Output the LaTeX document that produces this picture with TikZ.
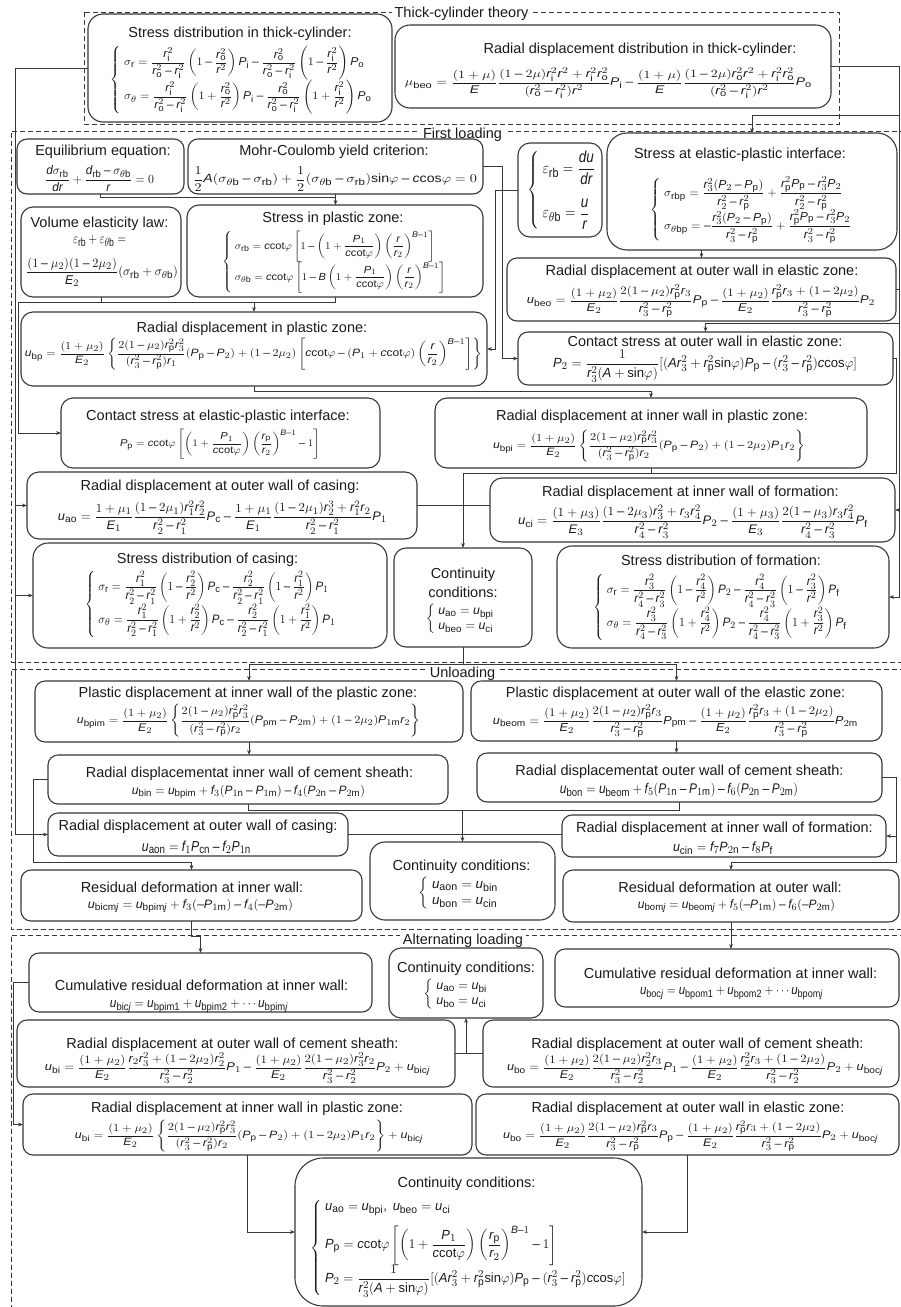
\documentclass[tikz,border=0pt]{standalone}
\usepackage{amsmath}
\usepackage{graphicx}
\usepackage{fontspec}
\setmainfont{Liberation Sans}
\usepackage[italic]{mathastext}
\usetikzlibrary{arrows.meta,calc}
\definecolor{lc}{HTML}{383838}
\definecolor{tc}{HTML}{1A1A1A}
\newcommand{\rI}{r_\mathrm{i}}
\newcommand{\rO}{r_\mathrm{o}}
\newcommand{\rP}{r_\mathrm{p}}
\newcommand{\Pp}{P_\mathrm{p}}
\newcommand{\ccot}{c\mathrm{cot}\varphi}
\newcommand{\sinp}{\mathrm{sin}\varphi}
\newcommand{\ccos}{c\mathrm{cos}\varphi}
\newcommand{\thb}{\theta\mathrm{b}}
\newcommand{\LB}{\left\{\;}
\tikzset{
  bx/.style={draw=lc, line width=1.1pt, inner sep=0pt, outer sep=0pt},
  ttl/.style={font=\fontsize{14.5}{17}\selectfont, inner sep=0pt, text=tc, anchor=base},
  eqn/.style={inner sep=0pt, text=tc},
  ln/.style={draw=lc, line width=1pt},
  arr/.style={ln, -{Stealth[length=5pt,width=3.8pt]}},
  frm/.style={draw=lc, line width=0.8pt, dash pattern=on 5pt off 3pt},
  flab/.style={ttl, fill=white, inner xsep=3pt, inner ysep=1.5pt},
}
\newcommand{\BX}[6][10pt]{\node[bx,rounded corners=#1,anchor=north west,minimum width={(#5-#3)*1pt},minimum height={(#6-#4)*1pt}] (#2) at (#3,#4) {};}
\newcommand{\TT}[4]{\node[ttl] (#1) at (#2,#3) {#4};}
\newcommand{\EQ}[6]{\node[eqn] (#1) at (#2,#3) {\resizebox*{#4pt}{#5pt}{$\displaystyle #6$}};}
\newcommand{\EQH}[5]{\node[eqn] (#1) at (#2,#3) {\resizebox*{!}{#4pt}{$\displaystyle #5$}};}
\begin{document}
\begin{tikzpicture}[x=1pt,y=-1pt]
\useasboundingbox (0,0) rectangle (901,1307);
% ---------- frames
\draw[frm] (84,12) rectangle (839,124);
\draw[frm] (905,131) -- (11,131) -- (11,662) -- (905,662);
\draw[frm] (905,669) -- (11,669) -- (11,929) -- (905,929);
\draw[frm] (905,935) -- (11,935) -- (11,1312);
\node[flab] (lTC) at (461.5,17) {Thick-cylinder theory};
\node[flab] (lFL) at (462.5,138) {First loading};
\node[flab] (lUL) at (462.5,677) {Unloading};
\node[flab] (lAL) at (463,944) {Alternating loading};
% ---------- thick-cylinder theory
\BX[15pt]{A}{88}{14}{392}{122}
\TT{At}{240}{37}{Stress distribution in thick-cylinder:}
\EQ{Ae}{241.5}{80}{263}{68}{\LB\begin{array}{@{}l@{}}
\sigma_\mathrm{r}=\dfrac{\rI^2}{\rO^2-\rI^2}\left(1-\dfrac{\rO^2}{r^2}\right)P_\mathrm{i}-\dfrac{\rO^2}{\rO^2-\rI^2}\left(1-\dfrac{\rI^2}{r^2}\right)P_\mathrm{o}\\[4pt]
\sigma_\theta=\dfrac{\rI^2}{\rO^2-\rI^2}\left(1+\dfrac{\rO^2}{r^2}\right)P_\mathrm{i}-\dfrac{\rO^2}{\rO^2-\rI^2}\left(1+\dfrac{\rI^2}{r^2}\right)P_\mathrm{o}
\end{array}\right.}
\BX[15pt]{B}{395}{25}{831}{108}
\TT{Bt}{640}{53}{Radial displacement distribution in thick-cylinder:}
\EQ{Be}{608.5}{83}{407}{31}{\mu_\mathrm{beo}=\dfrac{(1+\mu)}{E}\dfrac{(1-2\mu)\rI^2r^2+\rI^2\rO^2}{(\rO^2-\rI^2)r^2}P_\mathrm{i}-\dfrac{(1+\mu)}{E}\dfrac{(1-2\mu)\rO^2r^2+\rI^2\rO^2}{(\rO^2-\rI^2)r^2}P_\mathrm{o}}
% ---------- first loading
\BX{E1}{17}{139}{184}{194}
\TT{E1t}{103}{155}{Equilibrium equation:}
\EQ{E1e}{99.5}{179}{109}{26}{\dfrac{d\sigma_\mathrm{rb}}{dr}+\dfrac{d_\mathrm{rb}-\sigma_{\thb}}{r}=0}
\BX{MC}{188}{139}{483}{194}
\TT{MCt}{334}{155}{Mohr-Coulomb yield criterion:}
\EQ{MCe}{335}{179}{284}{24}{\dfrac{1}{2}A(\sigma_{\thb}-\sigma_\mathrm{rb})+\dfrac{1}{2}(\sigma_{\thb}-\sigma_\mathrm{rb})\sinp-\ccos=0}
\BX[12pt]{ST}{518}{143}{602}{237}
\EQ{STe}{562}{190}{70}{78}{\LB\begin{array}{@{}l@{}}\varepsilon_\mathrm{rb}=\dfrac{du}{dr}\\[12pt]\varepsilon_{\thb}=\dfrac{u}{r}\end{array}\right.}
\BX[20pt]{SI}{607}{133}{897}{250}
\TT{SIt}{740}{158}{Stress at elastic-plastic interface:}
\EQ{SIe}{751.5}{210}{203}{66}{\LB\begin{array}{@{}l@{}}
\sigma_\mathrm{rbp}=\dfrac{r_3^2(P_2-\Pp)}{r_2^2-\rP^2}+\dfrac{\rP^2\Pp-r_3^2P_2}{r_2^2-\rP^2}\\[6pt]
\sigma_{\theta\mathrm{bp}}=-\dfrac{r_3^2(P_2-\Pp)}{r_3^2-\rP^2}+\dfrac{\rP^2\Pp-r_3^2P_2}{r_3^2-\rP^2}
\end{array}\right.}
\BX[12pt]{VE}{21}{207}{181}{297}
\TT{VEt}{99.5}{227}{Volume elasticity law:}
\EQ{VEa}{99.5}{241}{53}{12}{\varepsilon_\mathrm{rb}+\varepsilon_{\thb}=}
\EQ{VEb}{102}{272}{152}{29}{\dfrac{(1-\mu_2)(1-2\mu_2)}{E_2}(\sigma_\mathrm{rb}+\sigma_{\thb})}
\BX[12pt]{SP}{187}{205}{483}{297}
\TT{SPt}{333}{222}{Stress in plastic zone:}
\EQ{SPe}{334.5}{262}{225}{62}{\LB\begin{array}{@{}l@{}}
\sigma_\mathrm{rb}=\ccot\left[1-\left(1+\dfrac{P_1}{\ccot}\right)\left(\dfrac{r}{r_2}\right)^{B-1}\right]\\[4pt]
\sigma_{\thb}=\ccot\left[1-B\left(1+\dfrac{P_1}{\ccot}\right)\left(\dfrac{r}{r_2}\right)^{B-1}\right]
\end{array}\right.}
\BX[12pt]{RDP}{21}{312}{487}{386}
\TT{RDPt}{252}{332}{Radial displacement in plastic zone:}
\EQ{RDPe}{253.5}{354}{457}{32}{u_\mathrm{bp}=\dfrac{(1+\mu_2)}{E_2}\left\{\dfrac{2(1-\mu_2)\rP^2r_3^2}{(r_3^2-\rP^2)r_1}(\Pp-P_2)+(1-2\mu_2)\left[\ccot-(P_1+\ccot)\left(\dfrac{r}{r_2}\right)^{B-1}\right]\right\}}
\BX{RDOE}{507}{258}{896}{321}
\TT{RDOEt}{702}{275}{Radial displacement at outer wall in elastic zone:}
\EQ{RDOEe}{701}{301}{348}{32}{u_\mathrm{beo}=\dfrac{(1+\mu_2)}{E_2}\dfrac{2(1-\mu_2)\rP^2r_3}{r_3^2-\rP^2}\Pp-\dfrac{(1+\mu_2)}{E_2}\dfrac{\rP^2r_3+(1-2\mu_2)}{r_3^2-\rP^2}P_2}
\BX{CSO}{518}{332}{893}{385}
\TT{CSOt}{705}{346}{Contact stress at outer wall in elastic zone:}
\EQ{CSOe}{705}{366}{304}{32}{P_2=\dfrac{1}{r_3^2(A+\sinp)}[(Ar_3^2+\rP^2\sinp)\Pp-(r_3^2-\rP^2)\ccos]}
\BX[12pt]{CSI}{61}{398}{380}{468}
\TT{CSIt}{218}{420}{Contact stress at elastic-plastic interface:}
\EQ{CSIe}{220}{444}{200}{30}{\Pp=\ccot\left[\left(1+\dfrac{P_1}{\ccot}\right)\left(\dfrac{\rP}{r_2}\right)^{B-1}-1\right]}
\BX[12pt]{RDIP}{435}{398}{867}{468}
\TT{RDIPt}{652}{420}{Radial displacement at inner wall in plastic zone:}
\EQ{RDIPe}{649}{446}{312}{32}{u_\mathrm{bpi}=\dfrac{(1+\mu_2)}{E_2}\left\{\dfrac{2(1-\mu_2)\rP^2r_3^2}{(r_3^2-\rP^2)r_2}(\Pp-P_2)+(1-2\mu_2)P_1r_2\right\}}
\BX[12pt]{RDOC}{27}{472}{417}{539}
\TT{RDOCt}{220}{490}{Radial displacement at outer wall of casing:}
\EQ{RDOCe}{222.5}{517.5}{329}{33}{u_\mathrm{ao}=\dfrac{1+\mu_1}{E_1}\dfrac{(1-2\mu_1)r_1^2r_2^2}{r_2^2-r_1^2}P_\mathrm{c}-\dfrac{1+\mu_1}{E_1}\dfrac{(1-2\mu_1)r_2^3+r_1^2r_2}{r_2^2-r_1^2}P_1}
\BX[12pt]{RDIF}{490}{478}{895}{542}
\TT{RDIFt}{690.5}{496}{Radial displacement at inner wall of formation:}
\EQ{RDIFe}{693}{521.5}{350}{33}{u_\mathrm{ci}=\dfrac{(1+\mu_3)}{E_3}\dfrac{(1-2\mu_3)r_3^2+r_3r_4^2}{r_4^2-r_3^2}P_2-\dfrac{(1+\mu_3)}{E_3}\dfrac{2(1-\mu_3)r_3r_4^2}{r_4^2-r_3^2}P_\mathrm{f}}
\BX[15pt]{SDC}{33}{543}{387}{648}
\TT{SDCt}{207.5}{563}{Stress distribution of casing:}
\EQ{SDCe}{211}{604}{252}{66}{\LB\begin{array}{@{}l@{}}
\sigma_\mathrm{r}=\dfrac{r_1^2}{r_2^2-r_1^2}\left(1-\dfrac{r_2^2}{r^2}\right)P_\mathrm{c}-\dfrac{r_2^2}{r_2^2-r_1^2}\left(1-\dfrac{r_1^2}{r^2}\right)P_1\\[4pt]
\sigma_\theta=\dfrac{r_1^2}{r_2^2-r_1^2}\left(1+\dfrac{r_2^2}{r^2}\right)P_\mathrm{c}-\dfrac{r_2^2}{r_2^2-r_1^2}\left(1+\dfrac{r_1^2}{r^2}\right)P_1
\end{array}\right.}
\BX[15pt]{SDF}{557}{546}{889}{648}
\TT{SDFt}{721}{565}{Stress distribution of formation:}
\EQ{SDFe}{720.5}{607}{255}{66}{\LB\begin{array}{@{}l@{}}
\sigma_\mathrm{r}=\dfrac{r_3^2}{r_4^2-r_3^2}\left(1-\dfrac{r_4^2}{r^2}\right)P_2-\dfrac{r_4^2}{r_4^2-r_3^2}\left(1-\dfrac{r_3^2}{r^2}\right)P_\mathrm{f}\\[4pt]
\sigma_\theta=\dfrac{r_3^2}{r_4^2-r_3^2}\left(1+\dfrac{r_4^2}{r^2}\right)P_2-\dfrac{r_4^2}{r_4^2-r_3^2}\left(1+\dfrac{r_3^2}{r^2}\right)P_\mathrm{f}
\end{array}\right.}
\BX[12pt]{CC1}{394}{548}{532}{647}
\TT{CC1a}{463}{578}{Continuity}
\TT{CC1b}{463}{597}{conditions:}
\EQH{CC1e}{460.5}{619}{30}{\LB\begin{array}{@{}l@{}}u_\mathrm{ao}=u_\mathrm{bpi}\\u_\mathrm{beo}=u_\mathrm{ci}\end{array}\right.}
% ---------- unloading
\BX{UL1}{35}{681}{463}{742}
\TT{UL1t}{248}{697}{Plastic displacement at inner wall of the plastic zone:}
\EQ{UL1e}{248.5}{721}{343}{33}{u_\mathrm{bpim}=\dfrac{(1+\mu_2)}{E_2}\left\{\dfrac{2(1-\mu_2)\rP^2r_3^2}{(r_3^2-\rP^2)r_2}(P_\mathrm{pm}-P_{2\mathrm{m}})+(1-2\mu_2)P_{1\mathrm{m}}r_2\right\}}
\BX{UR1}{471}{681}{882}{741}
\TT{UR1t}{675.5}{697}{Plastic displacement at outer wall of the elastic zone:}
\EQ{UR1e}{675.5}{721}{365}{33}{u_\mathrm{beom}=\dfrac{(1+\mu_2)}{E_2}\dfrac{2(1-\mu_2)\rP^2r_3}{r_3^2-\rP^2}P_\mathrm{pm}-\dfrac{(1+\mu_2)}{E_2}\dfrac{\rP^2r_3+(1-2\mu_2)}{r_3^2-\rP^2}P_{2\mathrm{m}}}
\BX{UL2}{48}{755}{448}{804}
\TT{UL2t}{249.5}{777}{Radial displacementat inner wall of cement sheath:}
\EQ{UL2e}{248.5}{792}{233}{14}{u_\mathrm{bin}=u_\mathrm{bpim}+f_3(P_{1\mathrm{n}}-P_{1\mathrm{m}})-f_4(P_{2\mathrm{n}}-P_{2\mathrm{m}})}
\BX{UR2}{477}{753}{882}{802}
\TT{UR2t}{679.5}{775}{Radial displacementat outer wall of cement sheath:}
\EQ{UR2e}{679}{790}{238}{14}{u_\mathrm{bon}=u_\mathrm{beom}+f_5(P_{1\mathrm{n}}-P_{1\mathrm{m}})-f_6(P_{2\mathrm{n}}-P_{2\mathrm{m}})}
\BX{UL3}{48}{813}{348}{856}
\TT{UL3t}{198}{830}{Radial displacement at outer wall of casing:}
\EQ{UL3e}{196.5}{847}{109}{13}{u_\mathrm{aon}=f_1P_\mathrm{cn}-f_2P_{1\mathrm{n}}}
\BX{UR3}{562}{815}{886}{857}
\TT{UR3t}{724.5}{832}{Radial displacement at inner wall of formation:}
\EQ{UR3e}{723}{848}{100}{13}{u_\mathrm{cin}=f_7P_{2\mathrm{n}}-f_8P_\mathrm{f}}
\BX[15pt]{UC}{370}{842}{555}{920}
\TT{UCt}{461.5}{870}{Continuity conditions:}
\EQH{UCe}{459}{893}{32}{\LB\begin{array}{@{}l@{}}u_\mathrm{aon}=u_\mathrm{bin}\\u_\mathrm{bon}=u_\mathrm{cin}\end{array}\right.}
\BX{UL4}{21}{870}{362}{921}
\TT{UL4t}{192}{892}{Residual deformation at inner wall:}
\EQ{UL4e}{190.5}{906}{205}{14}{u_{\mathrm{bicm}j}=u_{\mathrm{bpim}j}+f_3(-P_{1\mathrm{m}})-f_4(-P_{2\mathrm{m}})}
\BX{UR4}{563}{870}{899}{922}
\TT{UR4t}{730}{892}{Residual deformation at outer wall:}
\EQ{UR4e}{736.5}{906}{197}{14}{u_{\mathrm{bom}j}=u_{\mathrm{beom}j}+f_5(-P_{1\mathrm{m}})-f_6(-P_{2\mathrm{m}})}
% ---------- alternating loading
\BX{AL1}{29}{953}{372}{1012}
\TT{AL1t}{201.5}{990}{Cumulative residual deformation at inner wall:}
\EQ{AL1e}{199}{1006}{178}{13}{u_{\mathrm{bic}j}=u_\mathrm{bpim1}+u_\mathrm{bpim2}+\cdots u_{\mathrm{bpim}j}}
\BX[12pt]{ALC}{389}{948}{543}{1018}
\TT{ALCt}{466}{972}{Continuity conditions:}
\EQH{ALCe}{456}{994}{30}{\LB\begin{array}{@{}l@{}}u_\mathrm{ao}=u_\mathrm{bi}\\u_\mathrm{bo}=u_\mathrm{ci}\end{array}\right.}
\BX{AR1}{555}{949}{899}{1007}
\TT{AR1t}{730.5}{978}{Cumulative residual deformation at inner wall:}
\EQ{AR1e}{731.5}{993}{183}{13}{u_{\mathrm{boc}j}=u_\mathrm{bpom1}+u_\mathrm{bpom2}+\cdots u_{\mathrm{bpom}j}}
\BX{AL2}{17}{1020}{455}{1087}
\TT{AL2t}{232.5}{1048}{Radial displacement at outer wall of cement sheath:}
\EQ{AL2e}{237.5}{1068}{385}{30}{u_\mathrm{bi}=\dfrac{(1+\mu_2)}{E_2}\dfrac{r_2r_3^2+(1-2\mu_2)r_2^2}{r_3^2-r_2^2}P_1-\dfrac{(1+\mu_2)}{E_2}\dfrac{2(1-\mu_2)r_3^2r_2}{r_3^2-r_2^2}P_2+u_{\mathrm{bic}j}}
\BX{AR2}{483}{1020}{899}{1087}
\TT{AR2t}{697.5}{1048}{Radial displacement at outer wall of cement sheath:}
\EQ{AR2e}{695}{1068}{376}{30}{u_\mathrm{bo}=\dfrac{(1+\mu_2)}{E_2}\dfrac{2(1-\mu_2)r_2^2r_3}{r_3^2-r_2^2}P_1-\dfrac{(1+\mu_2)}{E_2}\dfrac{r_2^2r_3+(1-2\mu_2)}{r_3^2-r_2^2}P_2+u_{\mathrm{boc}j}}
\BX{AL3}{23}{1094}{472}{1155}
\TT{AL3t}{247}{1112}{Radial displacement at inner wall in plastic zone:}
\EQ{AL3e}{249}{1136}{348}{32}{u_\mathrm{bi}=\dfrac{(1+\mu_2)}{E_2}\left\{\dfrac{2(1-\mu_2)\rP^2r_3^2}{(r_3^2-\rP^2)r_2}(\Pp-P_2)+(1-2\mu_2)P_1r_2\right\}+u_{\mathrm{bic}j}}
\BX{AR3}{476}{1094}{899}{1155}
\TT{AR3t}{688}{1112}{Radial displacement at outer wall in elastic zone:}
\EQ{AR3e}{690.5}{1136}{375}{31}{u_\mathrm{bo}=\dfrac{(1+\mu_2)}{E_2}\dfrac{2(1-\mu_2)\rP^2r_3}{r_3^2-\rP^2}\Pp-\dfrac{(1+\mu_2)}{E_2}\dfrac{\rP^2r_3+(1-2\mu_2)}{r_3^2-\rP^2}P_2+u_{\mathrm{boc}j}}
\BX[28pt]{CC}{295}{1158}{642}{1306}
\TT{CCt}{466.5}{1187}{Continuity conditions:}
\EQ{CCe}{468.5}{1248}{317}{98}{\LB\begin{array}{@{}l@{}}
u_\mathrm{ao}=u_\mathrm{bpi},\ u_\mathrm{beo}=u_\mathrm{ci}\\[8pt]
\Pp=\ccot\left[\left(1+\dfrac{P_1}{\ccot}\right)\left(\dfrac{\rP}{r_2}\right)^{B-1}-1\right]\\[8pt]
P_2=\dfrac{1}{r_3^2(A+\sinp)}[(Ar_3^2+\rP^2\sinp)\Pp-(r_3^2-\rP^2)\ccos]
\end{array}\right.}
% ---------- connectors
\coordinate (tl) at (15,68);
\coordinate (tr) at (899.5,68);
\draw[arr] (A.west) -- (tl) |- (UL3.west);
\draw[arr] (tl |- RDOC.west) -- (RDOC.west);
\draw[arr] (tl |- SDC.west) -- (SDC.west);
\draw[ln] (B.east) -- (B.east -| tr) -- (tr |- SDF.east);
\draw[arr] (tr |- SDF.east) -- (SDF.east);
\draw[arr] (tr |- RDIF.east) -- (RDIF.east);
\coordinate (si) at (752,115);
\draw[arr] (tr |- si) -- (si) -- (SI.north);
\draw[ln] (RDOE.east) -- (RDOE.east -| tr);
\coordinate (cs) at (705.5,323);
\draw[arr] (tr |- cs) -- (cs) -- (CSO.north);
\coordinate (j0) at (335.5,197);
\draw[ln] (E1.south) |- (j0);
\draw[arr] (MC.south) -- (MC.south |- SP.north);
\draw[arr] (MC.east) -- ++(19,0) |- (CSO.west);
\draw[arr] (ST.west) -- ++(-23,0) |- (RDP.east);
\coordinate (j3) at (18,302);
\draw[ln] (VE.south) -- (VE.south |- j3);
\draw[ln] (SP.south) |- (j3);
\draw[arr] (j3) |- (CSI.west);
\draw[arr] (RDP.north |- j3) -- (RDP.north);
\draw[arr] (RDP.south) -- ++(0,5) -| (RDIP.north);
\draw[arr] (RDOE.north |- SI.south) -- (RDOE.north);
\coordinate (j1) at (463,473);
\draw[arr] (CSO.east) -- ++(3,0) |- (j1) -- (CC1.north);
\draw[ln] (RDIP.south) -- (RDIP.south |- j1);
\draw[ln] (RDOC.east) -- (RDOC.east -| RDIF.west);
\draw[arr] (CC1.south) -- ++(0,17) -| (UL1.north);
\draw[arr] (CC1.south) -- ++(0,17) -| (UR1.north);
\draw[arr] (UL1.south) -- (UL1.south |- UL2.north);
\draw[arr] (UR1.south) -- (UR1.south |- UR2.north);
\coordinate (j2) at (462.5,810);
\draw[ln] (UL2.south) |- (j2) -| (UR2.south);
\draw[arr] (j2) -- (UC.north);
\draw[ln] (UL3.east) -- (UL3.east -| UR3.west);
\draw[arr] (UL2.west) -- ++(-15,0) |- ($(UL4.north)+(0,-8)$) -- (UL4.north);
\draw[arr] (UR2.east) -- ++(14,0) |- ($(UR4.north)+(0,-8)$) -- (UR4.north);
\coordinate (rr) at (896,836);
\draw[arr] (UR3.east -| rr) -- (UR3.east);
\draw[arr] (UL4.south) -- ++(0,15) -| (AL1.north);
\draw[arr] (UR4.south) -- (UR4.south |- AR1.north);
\draw[arr] (AL1.west) -- ++(-16,0) |- (AL3.west);
\draw[ln] (AL2.east) -- (AL2.east -| AR2.west);
\draw[arr] (ALC.south |- AL2.east) -- (ALC.south);
\draw[arr] (AL3.south) |- (CC.west);
\draw[arr] (AR3.south) |- (CC.east);
\end{tikzpicture}
\end{document}
